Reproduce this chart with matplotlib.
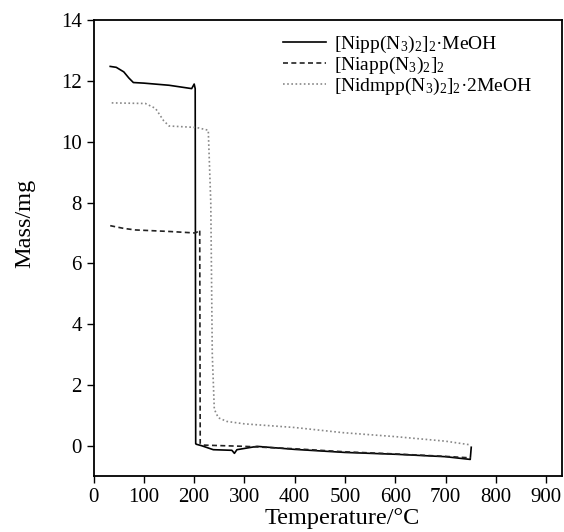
import matplotlib
matplotlib.use("Agg")
from matplotlib import pyplot as plt

plt.rcParams["font.family"] = ["Liberation Serif", "DejaVu Serif"]
plt.rcParams["mathtext.fontset"] = "custom"
plt.rcParams["mathtext.rm"] = "Liberation Serif"
plt.rcParams["mathtext.default"] = "regular"

# [Nipp(N3)2]2·MeOH
t_nipp = [33, 45, 60, 70, 79, 100, 150, 195, 200, 202, 203, 204, 215, 238, 275, 280, 285, 325, 400, 500, 600, 700, 749, 751]
m_nipp = [12.48, 12.45, 12.3, 12.1, 11.95, 11.93, 11.86, 11.75, 11.9, 11.75, 0.07, 0.05, 0.0, -0.13, -0.15, -0.25, -0.13, -0.02, -0.12, -0.22, -0.28, -0.36, -0.45, -0.05]

# [Niapp(N3)2]2
t_niapp = [33, 60, 83, 150, 202, 208, 211, 212, 220, 300, 400, 500, 600, 700, 750]
m_niapp = [7.24, 7.15, 7.1, 7.05, 7.0, 7.05, 7.1, 0.07, 0.02, -0.02, -0.1, -0.2, -0.27, -0.35, -0.4]

# [Nidmpp(N3)2]2·2MeOH
t_nidmpp = [36, 103, 123, 139, 150, 205, 228, 233, 236, 240, 248, 265, 300, 400, 496, 600, 700, 749]
m_nidmpp = [11.28, 11.26, 11.1, 10.7, 10.52, 10.47, 10.38, 8.0, 3.0, 1.2, 0.92, 0.8, 0.72, 0.6, 0.43, 0.3, 0.15, 0.03]

fig, ax = plt.subplots(figsize=(5.64, 5.32), dpi=100)
fig.subplots_adjust(left=0.166, right=0.996, top=0.962, bottom=0.105)

ax.plot(t_nipp, m_nipp, color="black", lw=1.2, ls="-", label=r"[Nipp(N$_3$)$_2$]$_2$·MeOH")
ax.plot(t_niapp, m_niapp, color="#222222", lw=1.2, ls=(0, (3, 2)), label=r"[Niapp(N$_3$)$_2$]$_2$")
ax.plot(t_nidmpp, m_nidmpp, color="#888888", lw=1.2, ls=(0, (1, 1.5)), label=r"[Nidmpp(N$_3$)$_2$]$_2$·2MeOH")

ax.set_xlim(0, 931)
ax.set_ylim(-1, 14)
ax.set_xticks(range(0, 1000, 100))
ax.set_yticks(range(0, 15, 2))
ax.tick_params(direction="out", length=5, width=1, labelsize=15, top=False, right=False)
for s in ax.spines.values():
    s.set_linewidth(1.3)

ax.set_xlabel("Temperature/°C", fontsize=17.5)
ax.set_ylabel("Mass/mg", fontsize=17.5)
ax.xaxis.set_label_coords(0.53, -0.093)
ax.yaxis.set_label_coords(-0.146, 0.555)
ax.xaxis.label.set_va("center")
ax.yaxis.label.set_va("center")

leg = ax.legend(loc="upper left", bbox_to_anchor=(0.405, 0.97), frameon=False, fontsize=14,
                handlelength=2.2, handletextpad=0.4, labelspacing=0.0, borderpad=0, borderaxespad=0)

plt.savefig("out.png", dpi=100)
plt.close()
